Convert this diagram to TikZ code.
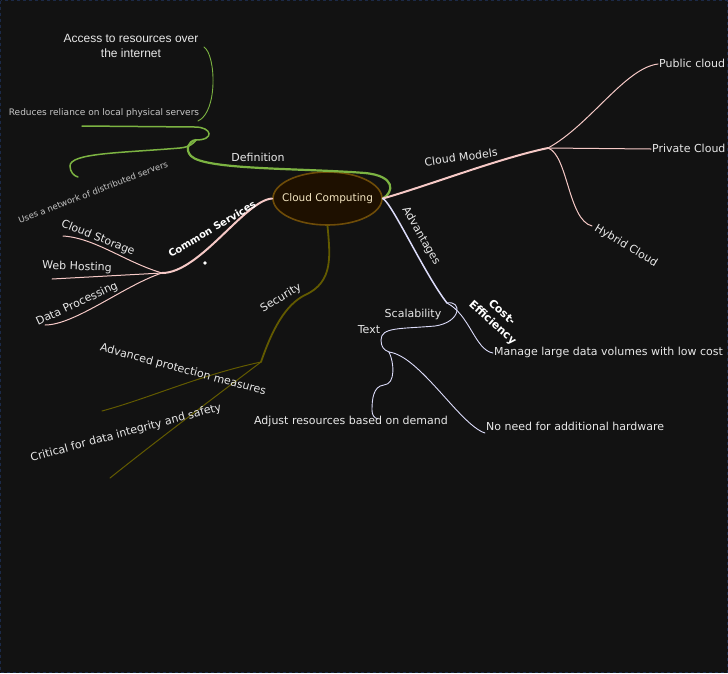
\documentclass[tikz,border=0pt]{standalone}
\usepackage{fontspec}
\setmainfont{DejaVu Sans}
\newfontfamily\arialfont{Liberation Sans}
\usetikzlibrary{shapes.geometric}
\definecolor{bgc}{HTML}{121212}
\definecolor{framec}{HTML}{1C2A48}
\definecolor{defgreen}{HTML}{7CB342}
\definecolor{pinkc}{HTML}{F6C9C6}
\definecolor{olivec}{HTML}{625A00}
\definecolor{lavc}{HTML}{DCDCFA}
\definecolor{ccfill}{HTML}{1E1000}
\definecolor{ccdraw}{HTML}{6E4C08}
\definecolor{cctext}{HTML}{F2E4C0}
\definecolor{txtc}{HTML}{E8E8E8}
\definecolor{smallc}{HTML}{C8C8C8}
\tikzset{
  lbl/.style={text=txtc, font=\fontsize{11}{13}\selectfont, inner sep=1pt},
  smalllbl/.style={text=smallc, font=\fontsize{8.5}{10}\selectfont, inner sep=1pt},
  boldlbl/.style={text=white, font=\fontsize{10}{12}\selectfont\bfseries, inner sep=1pt, align=center},
  centernode/.style={ellipse, draw=ccdraw, fill=ccfill, line width=1.6pt, minimum width=109pt, minimum height=53pt, inner xsep=-8pt, inner ysep=0pt, text=cctext, font=\fontsize{10.5}{12}\selectfont},
  defbranch/.style={draw=defgreen, line width=2.2pt, line cap=round},
  defsub/.style={draw=defgreen, line width=1.5pt, line cap=round},
  defthin/.style={draw=defgreen, line width=0.9pt, line cap=round},
  pinkbranch/.style={draw=pinkc, line width=2pt, line cap=round},
  pinksub/.style={draw=pinkc, line width=1pt, line cap=round},
  olivebranch/.style={draw=olivec, line width=1.8pt, line cap=round},
  olivesub/.style={draw=olivec, line width=1pt, line cap=round},
  lavbranch/.style={draw=lavc, line width=1.5pt, line cap=round},
  lavsub/.style={draw=lavc, line width=0.9pt, line cap=round},
}
\begin{document}
\begin{tikzpicture}[x=1pt,y=-1pt]
\useasboundingbox (0,0) rectangle (728,673);
\fill[bgc] (0,0) rectangle (728,673);
\draw[framec, line width=1.2pt, dash pattern=on 3pt off 3pt] (0.6,0.6) rectangle (727.4,672.4);

% central node
\node[centernode] (cc) at (327.5,198.5) {Cloud Computing};

% ---------------- Definition ----------------
\coordinate (defhub) at (196,140);
\coordinate (redend) at (82,126);
\coordinate (usesend) at (78,177);
\coordinate (accstart) at (198,121);
\coordinate (accend) at (204,47);
\draw[defbranch] (cc.east) .. controls (394,192) and (396,176) .. (365,173)
  .. controls (300,168) and (205,170) .. (191,156)
  .. controls (185,150) and (188,141) .. (defhub);
\draw[defsub] (defhub) .. controls (215,140) and (212,127) .. (195,127) -- (redend);
\draw[defsub] (defhub) .. controls (194,143) and (190,147) .. (180,148)
  .. controls (120,153) and (70,153) .. (70,166)
  .. controls (70,172) and (74,176) .. (usesend);
\draw[defthin] (accstart) .. controls (218,112) and (216,55) .. (accend);
\node[lbl] (deflbl) at (258,157) {Definition};
\node[text=txtc, font=\arialfont\fontsize{12}{15}\selectfont, align=center, inner sep=1pt] (acc) at (131,46) {Access to resources over\\the internet};
\node[smalllbl, font=\fontsize{9}{10}\selectfont] (red) at (104,113) {Reduces reliance on local physical servers};
\node[smalllbl, rotate=21] (uses) at (93,192) {Uses a network of distributed servers};

% ---------------- Cloud Models ----------------
\coordinate (cmhub) at (548,148);
\coordinate (pubend) at (658,64);
\coordinate (privend) at (651,149);
\coordinate (hybend) at (592,226);
\draw[pinkbranch] (cc.east) .. controls (430,185) and (500,158) .. (cmhub);
\draw[pinksub] (cmhub) .. controls (590,125) and (625,68) .. (pubend);
\draw[pinksub] (cmhub) -- (privend);
\draw[pinksub] (cmhub) .. controls (568,155) and (568,220) .. (hybend);
\node[lbl, rotate=8] (cmlbl) at (461,157) {Cloud Models};
\node[lbl, anchor=west] (pub) at (658,63) {Public cloud};
\node[lbl, anchor=west] (priv) at (651,148) {Private Cloud};
\node[lbl, rotate=-31] (hyb) at (626,246) {Hybrid Cloud};

% ---------------- Common Services ----------------
\coordinate (cshub) at (162,273);
\coordinate (storend) at (63,236);
\coordinate (webend) at (52,279);
\coordinate (dataend) at (45,325);
\draw[pinkbranch] (cc.west) .. controls (245,200) and (200,273) .. (cshub);
\draw[pinksub] (cshub) .. controls (125,262) and (95,238) .. (storend);
\draw[pinksub] (cshub) -- (webend);
\draw[pinksub] (cshub) .. controls (125,285) and (75,325) .. (dataend);
\node[boldlbl, rotate=31] (cslbl) at (212,229) {Common Services};
\node[lbl, rotate=-22] (stor) at (98,238) {Cloud Storage};
\node[lbl, rotate=-2] (web) at (77,267) {Web Hosting};
\node[lbl, rotate=25] (data) at (77,304) {Data Processing};
\fill[white] (205,263) circle (1.8);

% ---------------- Security ----------------
\coordinate (sechub) at (261,362);
\coordinate (advend) at (102,411);
\coordinate (critend) at (110,478);
\draw[olivebranch] (cc.south) .. controls (330,255) and (334,282) .. (305,295)
  .. controls (285,305) and (272,330) .. (sechub);
\draw[olivesub] (sechub) .. controls (200,375) and (150,398) .. (advend);
\draw[olivesub] (sechub) .. controls (200,408) and (150,446) .. (critend);
\node[lbl, rotate=31] (seclbl) at (281,298) {Security};
\node[lbl, rotate=-15] (advp) at (183,370) {Advanced protection measures};
\node[lbl, rotate=15] (crit) at (126,433) {Critical for data integrity and safety};

% ---------------- Advantages ----------------
\coordinate (advhub) at (447,303);
\coordinate (costend) at (493,353);
\coordinate (scalhub) at (389,352);
\coordinate (adjend) at (378,419);
\coordinate (noneedend) at (485,433);
\draw[lavbranch] (cc.east) .. controls (392,203) and (425,275) .. (advhub);
\draw[lavsub] (advhub) .. controls (470,315) and (475,350) .. (costend);
\draw[lavsub] (advhub) .. controls (462,300) and (462,322) .. (435,326)
  .. controls (400,329) and (381,327) .. (381,340)
  .. controls (381,347) and (384,350) .. (scalhub);
\draw[lavsub] (scalhub) .. controls (394,362) and (396,384) .. (384,385)
  .. controls (373,386) and (372,400) .. (372,410)
  .. controls (372,415) and (374,418) .. (adjend);
\draw[lavsub] (scalhub) .. controls (420,356) and (460,425) .. (noneedend);
\node[lbl, rotate=-60] (advlbl) at (421,236) {Advantages};
\node[boldlbl, font=\fontsize{11}{14}\selectfont\bfseries, rotate=-42] (costlbl) at (497,318) {Cost-\\Efficiency};
\node[lbl, anchor=west] (manage) at (493,352) {Manage large data volumes with low cost};
\node[lbl] (scallbl) at (413,314) {Scalability};
\node[lbl] (txt) at (369,330) {Text};
\node[lbl] (adjust) at (351,421) {Adjust resources based on demand};
\node[lbl, anchor=west] (noneed) at (485,426) {No need for additional hardware};
\end{tikzpicture}
\end{document}
